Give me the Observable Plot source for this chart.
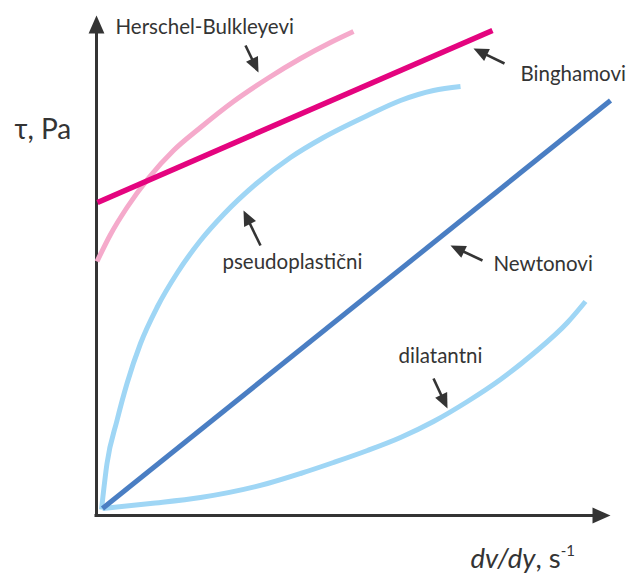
<!DOCTYPE html>
<html>
<head>
<meta charset="utf-8">
<script src="https://cdn.jsdelivr.net/npm/d3@7"></script>
<script src="https://cdn.jsdelivr.net/npm/@observablehq/plot@0.6"></script>
<style>
  html, body { margin: 0; padding: 0; background: #fff; }
  #chart svg { display: block; }
</style>
</head>
<body>
<div id="chart"></div>
<script>
// Shear rate (x, arbitrary units) vs shear stress (y, arbitrary units)
const newtonX = [0.12, 10.28];
const newtonY = [0.14, 8.3];

const binghamX = [0.02, 7.92];
const binghamY = [6.26, 9.7];

const herschelX = [0.01, 0.28, 0.61, 1.05, 1.54, 2.08, 2.74, 3.42, 4.08, 4.68, 5.14];
const herschelY = [5.08, 5.62, 6.16, 6.76, 7.3, 7.76, 8.28, 8.74, 9.14, 9.46, 9.68];

const pseudoX = [0.1, 0.21, 0.41, 0.61, 0.88, 1.21, 1.62, 2.08, 2.54, 3.2, 3.88, 4.54, 5.42, 6.08, 6.74, 7.28];
const pseudoY = [0.12, 1.04, 1.9, 2.64, 3.44, 4.16, 4.86, 5.5, 6.02, 6.64, 7.16, 7.56, 8.0, 8.3, 8.5, 8.58];

const dilatX = [0.12, 1.08, 2.08, 3.42, 4.08, 4.74, 5.42, 6.08, 6.74, 7.42, 8.08, 8.74, 9.42, 9.78];
const dilatY = [0.14, 0.24, 0.36, 0.64, 0.84, 1.06, 1.3, 1.56, 1.88, 2.28, 2.72, 3.24, 3.86, 4.28];

// Labels
const labelText = ["Herschel-Bulkleyevi", "Binghamovi", "Newtonovi", "pseudoplastični", "dilatantni"];
const labelX = [0.38, 8.48, 7.94, 2.52, 6.04];
const labelY = [9.77, 8.83, 5.03, 5.07, 3.19];

// Pointer arrows (tail -> tip)
const pointerX1 = [2.98, 8.16, 7.72, 3.28, 6.74];
const pointerY1 = [9.4, 9.04, 5.1, 5.4, 2.74];
const pointerX2 = [3.24, 7.54, 7.08, 2.94, 7.02];
const pointerY2 = [8.86, 9.34, 5.4, 6.1, 2.14];

// Axes
const xAxisEnd = 10.28;
const yAxisEnd = 10.0;
const yTitle = "τ, Pa";
const xTitle = "dv/dy, s-1";

const zip = (xs, ys) => xs.map((x, i) => ({x, y: ys[i]}));
const newton = zip(newtonX, newtonY);
const bingham = zip(binghamX, binghamY);
const herschel = zip(herschelX, herschelY);
const pseudo = zip(pseudoX, pseudoY);
const dilat = zip(dilatX, dilatY);
const labels = labelText.map((t, i) => ({t, x: labelX[i], y: labelY[i]}));
const pointers = pointerX1.map((x1, i) => {
  const x2 = pointerX2[i], y1 = pointerY1[i], y2 = pointerY2[i];
  const len = Math.hypot(x2 - x1, y2 - y1);
  const back = 0.2; // pull shaft end inside head
  return {x1, y1, x2, y2,
    sx: x2 - (x2 - x1) / len * back, sy: y2 - (y2 - y1) / len * back,
    angle: Math.atan2(x2 - x1, y2 - y1) * 180 / Math.PI};
});
const axisHeads = [
  {x: 0, y: yAxisEnd, angle: 0},
  {x: xAxisEnd, y: 0, angle: 90}
];

// Filled arrowhead symbol with its tip at the origin, pointing up
const arrowHead = {
  draw(ctx, size) {
    const L = Math.sqrt(size / Math.PI);
    const w = L * 0.44;
    ctx.moveTo(0, 0);
    ctx.lineTo(-w, L);
    ctx.lineTo(w, L);
    ctx.closePath();
  }
};

const ink = "#343434";
const font = "Lato, 'Open Sans', sans-serif";

const chart = Plot.plot({
  width: 627,
  height: 576,
  marginLeft: 96,
  marginRight: 31,
  marginTop: 15,
  marginBottom: 61,
  x: {domain: [0, 10], axis: null},
  y: {domain: [0, 10], axis: null},
  style: {fontFamily: font, background: "#fff"},
  marks: [
    // axes
    Plot.ruleX([0], {y1: 0, y2: yAxisEnd - 0.3, stroke: ink, strokeWidth: 3, strokeLinecap: "square"}),
    Plot.ruleY([0], {x1: 0, x2: xAxisEnd - 0.3, stroke: ink, strokeWidth: 3, strokeLinecap: "square"}),
    Plot.dot(axisHeads, {x: "x", y: "y", rotate: "angle", symbol: arrowHead, r: 18, fill: ink, stroke: "none"}),
    // curves
    Plot.line(herschel, {x: "x", y: "y", curve: "monotone-x", stroke: "#f5aacb", strokeWidth: 5, strokeLinecap: "butt"}),
    Plot.line(bingham, {x: "x", y: "y", stroke: "#e4047f", strokeWidth: 5.5, strokeLinecap: "butt"}),
    Plot.line(pseudo, {x: "x", y: "y", curve: "monotone-x", stroke: "#9fd6f5", strokeWidth: 5, strokeLinecap: "butt"}),
    Plot.line(dilat, {x: "x", y: "y", curve: "monotone-x", stroke: "#9fd6f5", strokeWidth: 5, strokeLinecap: "butt"}),
    Plot.line(newton, {x: "x", y: "y", stroke: "#4a7ec3", strokeWidth: 5, strokeLinecap: "butt"}),
    // pointers
    Plot.link(pointers, {x1: "x1", y1: "y1", x2: "sx", y2: "sy", stroke: ink, strokeWidth: 2.6}),
    Plot.dot(pointers, {x: "x2", y: "y2", rotate: "angle", symbol: arrowHead, r: 15, fill: ink, stroke: "none"}),
    // labels
    Plot.text(labels, {x: "x", y: "y", text: "t", textAnchor: "start", fontSize: 20.5, fill: ink}),
    Plot.text([yTitle], {x: -1.64, y: 7.7, text: d => d, textAnchor: "start", fontSize: 28, fill: ink}),
    Plot.text([xTitle], {x: 7.48, y: -0.864, text: d => d, textAnchor: "start", fontSize: 27.5, fill: ink, className: "xtitle"})
  ]
});

// style x title: italic "dv/dy", upright ", s", superscript "-1"
d3.select(chart).selectAll(".xtitle text").each(function() {
  const t = d3.select(this);
  t.text(null);
  t.append("tspan").attr("font-style", "italic").text("dv/dy");
  t.append("tspan").text(", s");
  t.append("tspan").attr("font-size", 15).attr("dy", "-0.75em").text("-1");
});

document.getElementById("chart").appendChild(chart);
</script>
</body>
</html>
